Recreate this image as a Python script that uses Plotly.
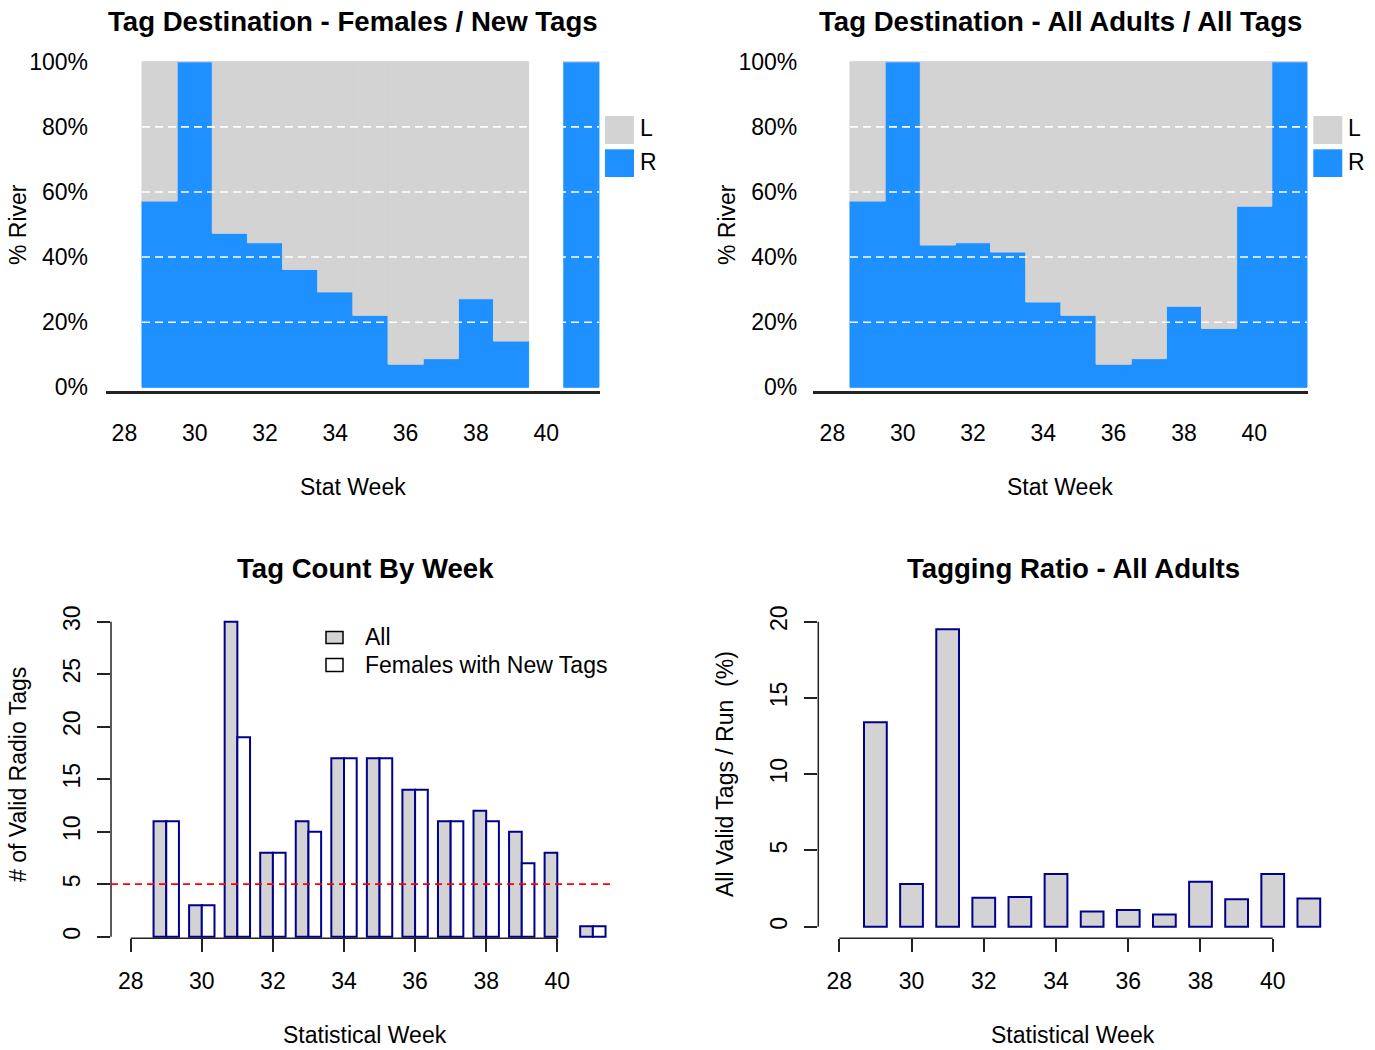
import plotly.graph_objects as go

# ---- data -------------------------------------------------------------
weeks = list(range(29, 42))

# share of tags heading to the River (remainder went to the Lake)
river_females_new = [0.572, 1.0, 0.473, 0.444, 0.362, 0.293, 0.221, 0.071,
                     0.088, 0.272, 0.142, None, 1.0]
river_all_adults = [0.572, 1.0, 0.437, 0.444, 0.4155, 0.262, 0.221, 0.071,
                    0.088, 0.249, 0.181, 0.556, 1.0]

tags_all = [11, 3, 30, 8, 11, 17, 17, 14, 11, 12, 10, 8, 1]
tags_females_new = [11, 3, 19, 8, 10, 17, 17, 14, 11, 11, 7, 0, 1]

tag_ratio_pct = [13.4, 2.8, 19.5, 1.9, 1.95, 3.45, 1.0, 1.1, 0.8, 2.95, 1.8,
                 3.45, 1.85]

pct_ticks = [0, 0.2, 0.4, 0.6, 0.8, 1.0]
pct_labels = ["0%", "20%", "40%", "60%", "80%", "100%"]
week_ticks = [28, 30, 32, 34, 36, 38, 40]
min_tags_line = 5

# ---- styling ----------------------------------------------------------
W, H = 1375, 1050
FONT = "Liberation Sans, Arial, sans-serif"
BLUE = "#1E90FF"
GREY = "#D3D3D3"
NAVY = "#00008B"
BASE = 23
TITLE = 27.6


def fx(p):
    return p / W


def fy(p):
    return 1 - p / H


def lake(river):
    return [None if r is None else 1 - r for r in river]


def outline(values):
    # empty weeks get no outline at all
    return [0 if v == 0 else 2 for v in values]


fig = go.Figure()

# top panels: stacked River / Lake share per week
for river, xa, ya in [(river_females_new, "x", "y"), (river_all_adults, "x2", "y2")]:
    fig.add_trace(go.Bar(x=weeks, y=river, base=0, width=1, xaxis=xa, yaxis=ya,
                         marker=dict(color=BLUE, line=dict(color=BLUE, width=1)),
                         name="R", showlegend=False))
    fig.add_trace(go.Bar(x=weeks, y=lake(river), base=river, width=1, xaxis=xa, yaxis=ya,
                         marker=dict(color=GREY, line=dict(color=GREY, width=1)),
                         name="L", showlegend=False))

# bottom-left: side-by-side counts
bw = 0.357
fig.add_trace(go.Bar(x=weeks, y=tags_all, width=bw, offset=-bw, xaxis="x3", yaxis="y3",
                     marker=dict(color=GREY, line=dict(color=NAVY, width=outline(tags_all))),
                     name="All", showlegend=False))
fig.add_trace(go.Bar(x=weeks, y=tags_females_new, width=bw, offset=0, xaxis="x3", yaxis="y3",
                     marker=dict(color="white",
                                 line=dict(color=NAVY, width=outline(tags_females_new))),
                     name="Females with New Tags", showlegend=False))

# bottom-right: tagging ratio
fig.add_trace(go.Bar(x=weeks, y=tag_ratio_pct, width=0.63, xaxis="x4", yaxis="y4",
                     marker=dict(color=GREY, line=dict(color=NAVY, width=2)),
                     name="Tagging ratio", showlegend=False))

tickfont = dict(family=FONT, size=BASE, color="black")
common = dict(showgrid=False, zeroline=False, automargin=False, tickfont=tickfont)

layout = dict(
    width=W, height=H, margin=dict(l=0, r=0, t=0, b=0, pad=0, autoexpand=False),
    paper_bgcolor="white", plot_bgcolor="white", barmode="overlay",
    font=dict(family=FONT, size=BASE, color="black"),
    showlegend=False,
)

# top-left axes
layout["xaxis"] = dict(domain=[fx(106), fx(600)], range=[27.476, 41.53], anchor="y",
                       tickvals=week_ticks, ticks="", showline=True, linecolor="#222",
                       linewidth=2.5, ticklabelstandoff=20, **common)
layout["yaxis"] = dict(domain=[fy(390.7), fy(55)], range=[-0.0104, 1.0206], anchor="x",
                       tickvals=pct_ticks, ticktext=pct_labels, ticks="", showline=False,
                       ticklabelstandoff=17, **common)
# top-right axes
layout["xaxis2"] = dict(domain=[fx(813.3), fx(1308.3)], range=[27.456, 41.538], anchor="y2",
                        tickvals=week_ticks, ticks="", showline=True, linecolor="#222",
                        linewidth=2.5, ticklabelstandoff=20, **common)
layout["yaxis2"] = dict(domain=[fy(390.7), fy(55)], range=[-0.0104, 1.0206], anchor="x2",
                        tickvals=pct_ticks, ticktext=pct_labels, ticks="", showline=False,
                        ticklabelstandoff=15, **common)
# bottom-left axes
layout["xaxis3"] = dict(domain=[fx(111), fx(615)], range=[27.446, 41.623], anchor="y3",
                        tickvals=week_ticks, ticks="outside", ticklen=13, tickwidth=1.5,
                        tickcolor="#222", showline=False, ticklabelstandoff=9, **common)
layout["yaxis3"] = dict(domain=[fy(938.3), fy(610)], range=[-0.152, 31.11], anchor="x3",
                        tickvals=[0, 5, 10, 15, 20, 25, 30], ticks="outside", ticklen=13,
                        tickwidth=1.5, tickcolor="#222", tickangle=-90, showline=False,
                        ticklabelstandoff=8, **common)
# bottom-right axes
layout["xaxis4"] = dict(domain=[fx(818.3), fx(1322)], range=[27.419, 41.364], anchor="y4",
                        tickvals=week_ticks, ticks="outside", ticklen=13, tickwidth=1.5,
                        tickcolor="#222", showline=False, ticklabelstandoff=9, **common)
layout["yaxis4"] = dict(domain=[fy(938.3), fy(617)], range=[-0.761, 20.31], anchor="x4",
                        tickvals=[0, 5, 10, 15, 20], ticks="outside", ticklen=13,
                        tickwidth=1.5, tickcolor="#222", tickangle=-90, showline=False,
                        ticklabelstandoff=8, **common)

shapes = []
# dashed white reference lines over the stacked shares
for xa, ya in [("x", "y"), ("x2", "y2")]:
    for v in pct_ticks[1:-1]:
        shapes.append(dict(type="line", xref=xa, yref=ya, x0=weeks[0] - 0.5,
                           x1=weeks[-1] + 0.5, y0=v, y1=v, layer="above",
                           line=dict(color="white", width=1.6, dash="8px,5px")))

# axis lines of the bottom panels (span first to last tick only)
for xa, ya, xpx, ytop, ybot in [("x3", "y3", 111, 30, 0), ("x4", "y4", 818.3, 20, 0)]:
    shapes.append(dict(type="line", xref="paper", yref=ya, x0=fx(xpx), x1=fx(xpx),
                       y0=ybot, y1=ytop, line=dict(color="#222", width=1.5)))
    shapes.append(dict(type="line", xref=xa, yref="paper", x0=week_ticks[0],
                       x1=week_ticks[-1], y0=fy(938.3), y1=fy(938.3),
                       line=dict(color="#222", width=1.5)))

# minimum-sample reference line
shapes.append(dict(type="line", xref="paper", yref="y3", x0=fx(111), x1=fx(615),
                   y0=min_tags_line, y1=min_tags_line, layer="above",
                   line=dict(color="red", width=1.8, dash="7px,5px")))

# legend keys
for lx in (605, 1313.3):
    shapes.append(dict(type="rect", xref="paper", yref="paper", x0=fx(lx), x1=fx(lx + 29),
                       y0=fy(144), y1=fy(116), fillcolor=GREY, line=dict(width=0)))
    shapes.append(dict(type="rect", xref="paper", yref="paper", x0=fx(lx), x1=fx(lx + 29),
                       y0=fy(177), y1=fy(149.3), fillcolor=BLUE, line=dict(width=0)))
shapes.append(dict(type="rect", xref="paper", yref="paper", x0=fx(326), x1=fx(343),
                   y0=fy(643.5), y1=fy(631.5), fillcolor=GREY,
                   line=dict(color="black", width=1.5)))
shapes.append(dict(type="rect", xref="paper", yref="paper", x0=fx(326), x1=fx(343),
                   y0=fy(671.5), y1=fy(658.5), fillcolor="white",
                   line=dict(color="black", width=1.5)))
layout["shapes"] = shapes


def note(text, x, y, size=BASE, bold=False, angle=0, xanchor="center"):
    return dict(text=text, x=fx(x), y=fy(y), xref="paper", yref="paper",
                showarrow=False, xanchor=xanchor, yanchor="middle", textangle=angle,
                font=dict(family=FONT, size=size, color="black",
                          weight="bold" if bold else "normal"))


layout["annotations"] = [
    note("Tag Destination - Females / New Tags", 353, 21, TITLE, True),
    note("Tag Destination - All Adults / All Tags", 1060, 21, TITLE, True),
    note("Tag Count By Week", 365, 568, TITLE, True),
    note("Tagging Ratio - All Adults", 1073, 568, TITLE, True),
    note("Stat Week", 353, 487),
    note("Stat Week", 1060, 487),
    note("Statistical Week", 365, 1035),
    note("Statistical Week", 1073, 1035),
    note("% River", 18, 225, angle=-90),
    note("% River", 727, 225, angle=-90),
    note("# of Valid Radio Tags", 18, 775, angle=-90),
    note("All Valid Tags / Run  (%)", 725, 774, angle=-90),
    note("L", 638, 128, xanchor="left"),
    note("R", 638, 162, xanchor="left"),
    note("L", 1346, 128, xanchor="left"),
    note("R", 1346, 162, xanchor="left"),
    note("All", 363, 637, xanchor="left"),
    note("Females with New Tags", 363, 665, xanchor="left"),
]

fig.update_layout(**layout)
fig.write_html("out.html")
